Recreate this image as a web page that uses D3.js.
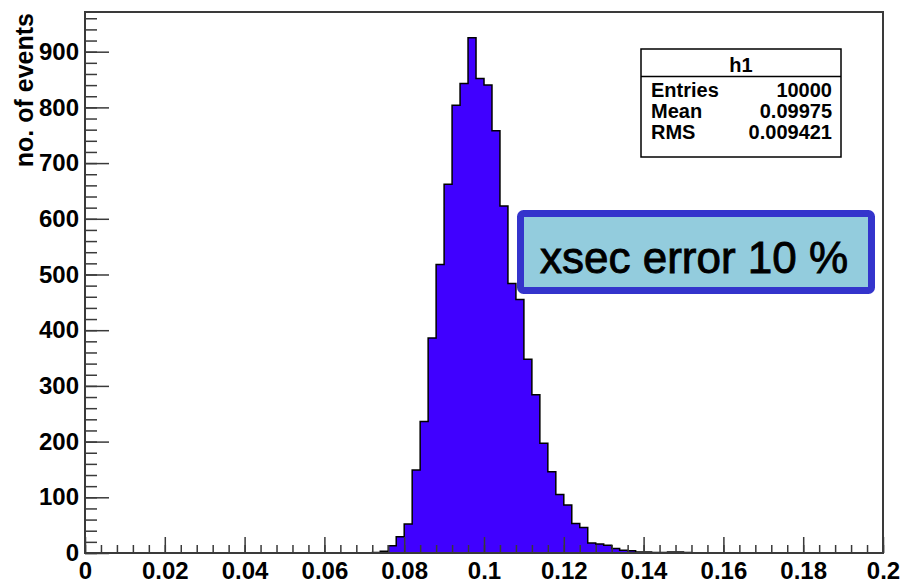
<!DOCTYPE html>
<html>
<head>
<meta charset="utf-8">
<script src="https://cdn.jsdelivr.net/npm/d3@7"></script>
<style>
  html, body { margin: 0; padding: 0; background: #fff; }
  svg { display: block; font-family: "Liberation Sans", Arial, Helvetica, sans-serif; }
</style>
</head>
<body>
<svg id="chart" width="906" height="583"></svg>
<script>
// Histogram h1: 100 bins of width 0.002 between 0 and 0.2
const xMin = 0, xMax = 0.2, nBins = 100;
const binCounts = [
  0, 0, 0, 0, 0, 0, 0, 0, 0, 0,
  0, 0, 0, 0, 0, 0, 0, 0, 0, 0,
  0, 0, 0, 0, 0, 0, 0, 0, 0, 0,
  0, 0, 0, 0, 0, 0, 1, 3, 13, 29,
  52, 149, 236, 386, 518, 662, 804, 843, 925, 852,
  840, 758, 623, 484, 455, 348, 284, 197, 146, 105,
  86, 53, 46, 18, 16, 14, 8, 5, 4, 2,
  2, 1, 1, 2, 2, 1, 0, 0, 0, 0,
  0, 0, 0, 0, 0, 0, 0, 0, 0, 0,
  0, 0, 0, 0, 0, 0, 0, 0, 0, 0
];

const xMajorTicks = [0, 0.02, 0.04, 0.06, 0.08, 0.1, 0.12, 0.14, 0.16, 0.18, 0.2];
const xTickLabels = ["0", "0.02", "0.04", "0.06", "0.08", "0.1", "0.12", "0.14", "0.16", "0.18", "0.2"];
const yMajorTicks = [0, 100, 200, 300, 400, 500, 600, 700, 800, 900];

const statsTitle = "h1";
const statsRows = [["Entries", "10000"], ["Mean", "0.09975"], ["RMS", "0.009421"]];
const yTitle = "no. of events";
const noteText = "xsec error 10 %";

// Frame geometry
const frame = { left: 85, right: 883, top: 12, bottom: 553 };
const yMaxVal = d3.max(binCounts) * 1.05;

const svg = d3.select("#chart");
const x = d3.scaleLinear().domain([xMin, xMax]).range([frame.left, frame.right]);
const y = d3.scaleLinear().domain([0, yMaxVal]).range([frame.bottom, frame.top]);

const binWidth = (xMax - xMin) / nBins;
const edgeAt = i => xMin + i * binWidth;

// Step outline of the histogram
const stepPts = [[xMin, 0]];
binCounts.forEach((c, i) => { stepPts.push([edgeAt(i), c]); stepPts.push([edgeAt(i + 1), c]); });
stepPts.push([xMax, 0]);

const line = d3.line().x(d => x(d[0])).y(d => y(d[1]));
svg.append("path")
  .attr("d", line(stepPts) + "Z")
  .attr("fill", "#4000ff")
  .attr("stroke", "#000")
  .attr("stroke-width", 1.5)
  .attr("stroke-linejoin", "miter");

// Axis ticks (pointing inward)
const axisColor = "#3a3a3a";
const xMinor = d3.range(0, 51).map(i => i * 0.004).filter(v => v <= xMax + 1e-9);
const yMinor = d3.range(0, Math.floor(yMaxVal / 20) + 1).map(i => i * 20);

const gxMinor = svg.append("g").attr("transform", `translate(0,${frame.bottom})`)
  .call(d3.axisBottom(x).tickValues(xMinor).tickSize(-8).tickFormat(""));
const gx = svg.append("g").attr("transform", `translate(0,${frame.bottom})`)
  .call(d3.axisBottom(x).tickValues(xMajorTicks).tickSize(-16).tickPadding(9)
    .tickFormat((d, i) => xTickLabels[i]));

const gyMinor = svg.append("g").attr("transform", `translate(${frame.left},0)`)
  .call(d3.axisLeft(y).tickValues(yMinor).tickSize(-12).tickFormat(""));
const gy = svg.append("g").attr("transform", `translate(${frame.left},0)`)
  .call(d3.axisLeft(y).tickValues(yMajorTicks).tickSize(-24).tickPadding(6));

[gxMinor, gx, gyMinor, gy].forEach(g => {
  g.select(".domain").remove();
  g.selectAll(".tick line").attr("stroke", axisColor).attr("stroke-width", 1.5);
  g.selectAll(".tick text")
    .attr("fill", "#000")
    .attr("font-family", "'Liberation Sans', Arial, sans-serif")
    .attr("font-weight", "bold")
    .attr("font-size", 24);
});
gx.selectAll(".tick text").attr("dy", "0.71em");

// Frame border
svg.append("rect")
  .attr("x", frame.left).attr("y", frame.top)
  .attr("width", frame.right - frame.left).attr("height", frame.bottom - frame.top)
  .attr("fill", "none").attr("stroke", axisColor).attr("stroke-width", 2);

// Y axis title
svg.append("text")
  .attr("transform", `translate(33,${frame.top + 1}) rotate(-90)`)
  .attr("text-anchor", "end")
  .attr("font-weight", "bold")
  .attr("font-size", 25)
  .attr("fill", "#000")
  .text(yTitle);

// Statistics box
const sb = { x: 641, y: 49, w: 200, h: 108, header: 27.5 };
const stats = svg.append("g");
stats.append("rect")
  .attr("x", sb.x).attr("y", sb.y).attr("width", sb.w).attr("height", sb.h)
  .attr("fill", "#fff").attr("stroke", "#000").attr("stroke-width", 1.5);
stats.append("line")
  .attr("x1", sb.x).attr("x2", sb.x + sb.w)
  .attr("y1", sb.y + sb.header).attr("y2", sb.y + sb.header)
  .attr("stroke", "#000").attr("stroke-width", 1.5);
stats.append("text")
  .attr("x", sb.x + sb.w / 2).attr("y", 71.5)
  .attr("text-anchor", "middle").attr("font-weight", "bold").attr("font-size", 20)
  .text(statsTitle);
statsRows.forEach((r, i) => {
  const by = 96.5 + i * 21;
  stats.append("text").attr("x", sb.x + 10).attr("y", by)
    .attr("font-weight", "bold").attr("font-size", 20).text(r[0]);
  stats.append("text").attr("x", sb.x + sb.w - 9).attr("y", by)
    .attr("text-anchor", "end").attr("font-weight", "bold").attr("font-size", 20).text(r[1]);
});

// Annotation box
const nb = { x: 520.5, y: 213.5, w: 351, h: 77 };
svg.append("rect")
  .attr("x", nb.x).attr("y", nb.y).attr("width", nb.w).attr("height", nb.h)
  .attr("rx", 3).attr("ry", 3)
  .attr("fill", "#93ccdd").attr("stroke", "#3434cc").attr("stroke-width", 7);
svg.append("text")
  .attr("x", 540).attr("y", 272.5)
  .attr("font-size", 44).attr("fill", "#000")
  .attr("stroke", "#000").attr("stroke-width", 0.9)
  .text(noteText);
</script>
</body>
</html>
